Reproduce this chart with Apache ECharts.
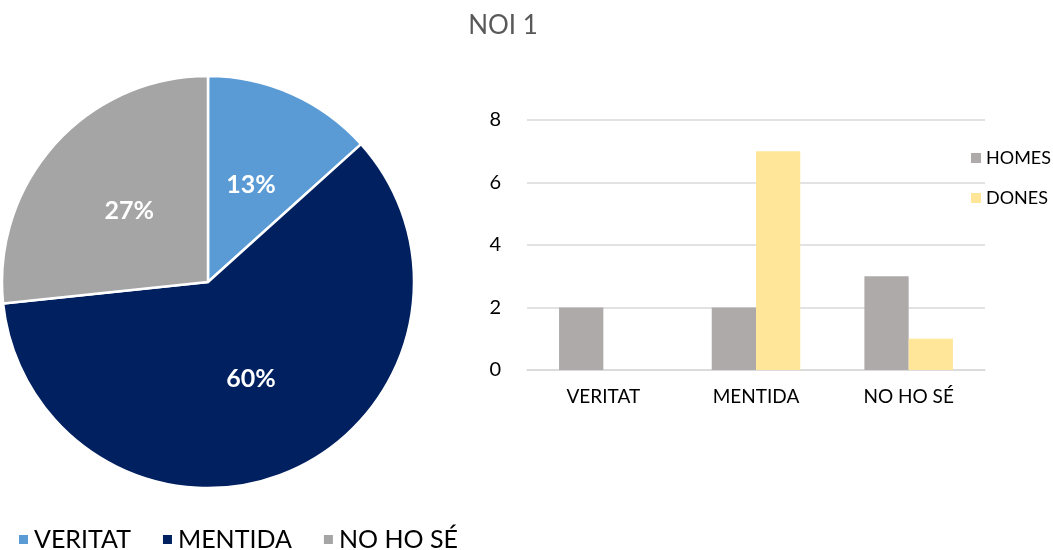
<!DOCTYPE html>
<html>
<head>
<meta charset="utf-8">
<script src="https://cdn.jsdelivr.net/npm/echarts@6/dist/echarts.min.js"></script>
<style>html,body{margin:0;padding:0;background:#fff;}#c{width:1053px;height:550px;}</style>
</head>
<body>
<div id="c"></div>
<script>
const categories = ['VERITAT', 'MENTIDA', 'NO HO SÉ'];
const homes = [2, 2, 3];
const dones = [0, 7, 1];
const pieValues = [2, 9, 4];
const pieColors = ['#5B9BD5', '#002060', '#A5A5A5'];
const yTicks = [0, 2, 4, 6, 8];

const FONT = 'Lato, "Open Sans", sans-serif';
const chart = echarts.init(document.getElementById('c'));
chart.setOption({
  animation: false,
  textStyle: { fontFamily: FONT },
  title: {
    text: 'NOI 1', left: 498, top: 8, textAlign: 'center',
    textStyle: { fontFamily: FONT, fontSize: 26, fontWeight: 'normal', color: '#595959' }
  },
  legend: [
    {
      data: categories, left: 12, top: 522, icon: 'rect', itemWidth: 11, itemHeight: 11, itemGap: 30,
      textStyle: { fontFamily: FONT, fontSize: 25, color: '#000' }
    },
    {
      data: ['HOMES', 'DONES'], orient: 'vertical', left: 966, top: 144, icon: 'rect',
      itemWidth: 10, itemHeight: 10, itemGap: 22,
      textStyle: { fontFamily: FONT, fontSize: 18, color: '#000' }
    }
  ],
  grid: { left: 527, right: 68, top: 120, bottom: 180 },
  xAxis: {
    type: 'category', data: categories,
    axisLine: { lineStyle: { color: '#D9D9D9', width: 1.5 } },
    axisTick: { show: false },
    axisLabel: { fontFamily: FONT, fontSize: 19, color: '#000', margin: 17 }
  },
  yAxis: {
    type: 'value', min: yTicks[0], max: yTicks[yTicks.length - 1], interval: 2,
    axisLine: { show: false }, axisTick: { show: false },
    splitLine: { lineStyle: { color: '#D9D9D9', width: 1.5 } },
    axisLabel: { fontFamily: FONT, fontSize: 20, color: '#000', margin: 26 }
  },
  series: [
    {
      type: 'pie', center: [208, 282], radius: [0, 206], startAngle: 90, clockwise: true,
      data: categories.map((c, i) => ({ name: c, value: pieValues[i], itemStyle: { color: pieColors[i] } })),
      itemStyle: { borderColor: '#fff', borderWidth: 2.5 },
      label: {
        position: 'inside', formatter: p => Math.round(p.percent) + '%',
        color: '#fff', fontFamily: FONT, fontSize: 25, fontWeight: 'bold'
      },
      labelLine: { show: false }
    },
    {
      name: 'HOMES', type: 'bar', data: homes, itemStyle: { color: '#AEAAAA' },
      barGap: '0%', barCategoryGap: '42%'
    },
    {
      name: 'DONES', type: 'bar', data: dones, itemStyle: { color: '#FFE699' },
      barGap: '0%', barCategoryGap: '42%'
    }
  ]
});
</script>
</body>
</html>
